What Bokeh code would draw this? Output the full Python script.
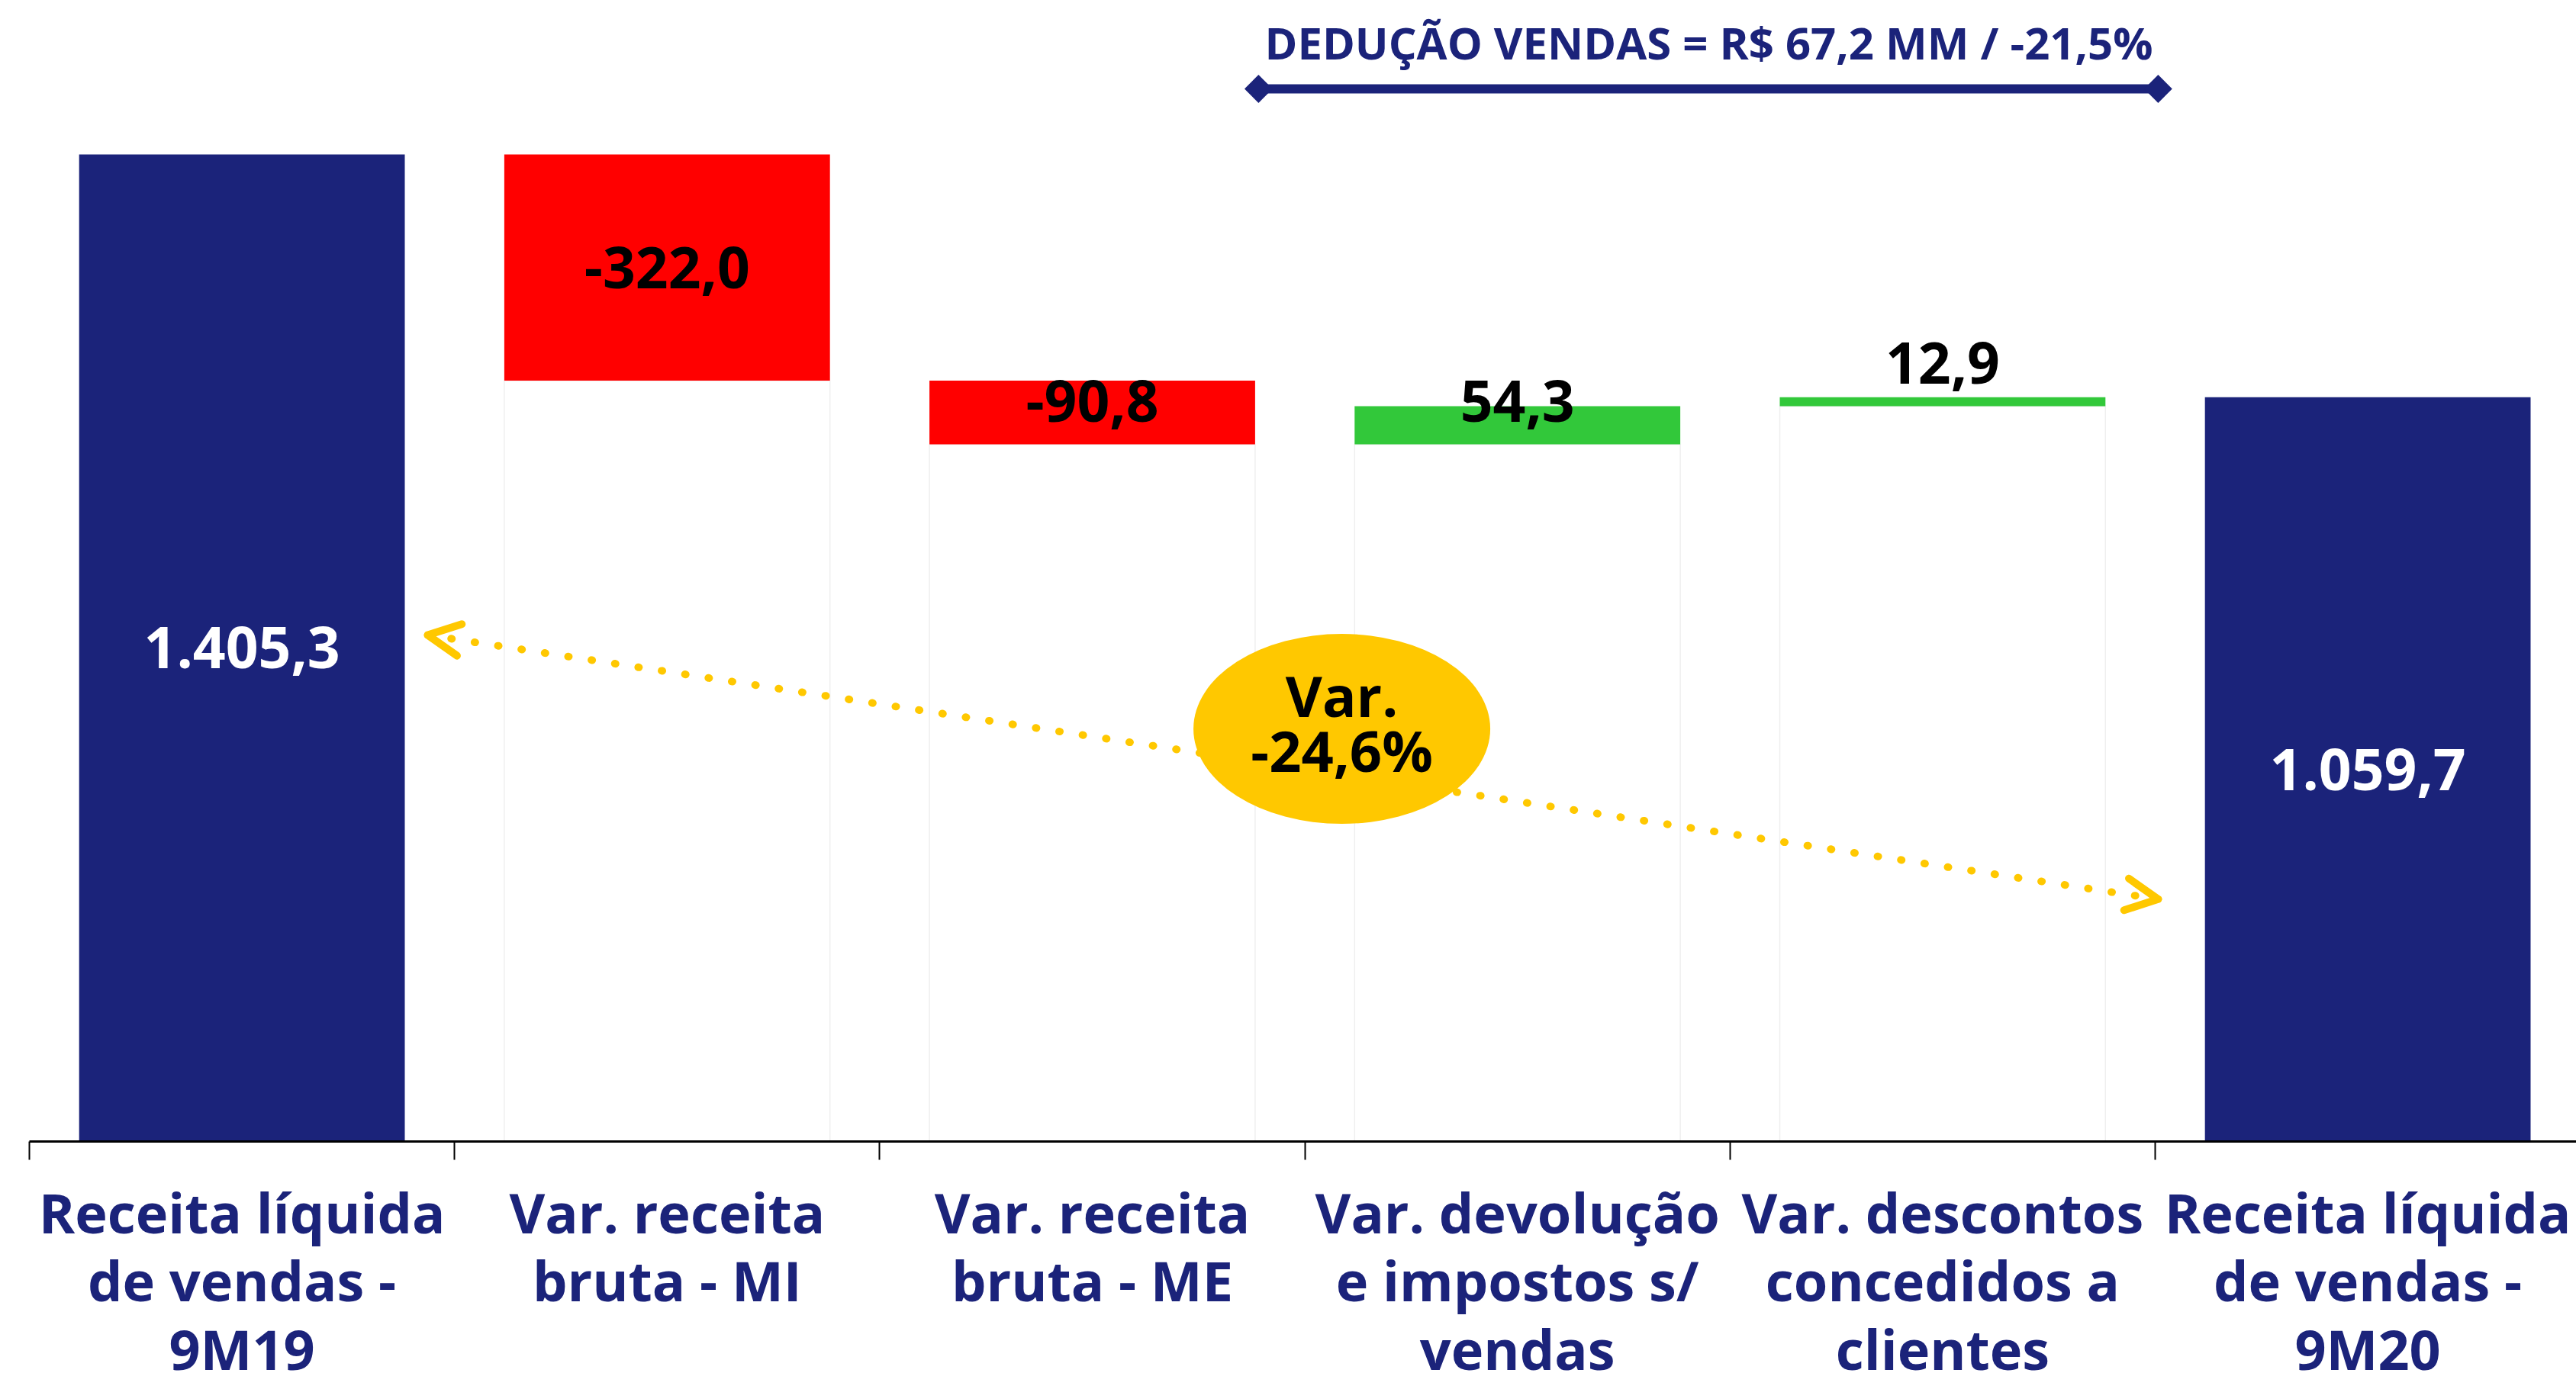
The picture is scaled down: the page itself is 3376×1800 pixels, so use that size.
import math
from bokeh.plotting import figure
from bokeh.models import Range1d, FixedTicker, Arrow, OpenHead, ColumnDataSource
from bokeh.core.properties import value
from bokeh.embed import file_html
from bokeh.resources import INLINE

# ---------------- data ----------------
categories = [
    "Receita líquida\nde vendas -\n9M19",
    "Var. receita\nbruta - MI",
    "Var. receita\nbruta - ME",
    "Var. devolução\ne impostos s/\nvendas",
    "Var. descontos\nconcedidos a\nclientes",
    "Receita líquida\nde vendas -\n9M20",
]
values = [1405.3, -322.0, -90.8, 54.3, 12.9, 1059.7]
kinds = ["total", "delta", "delta", "delta", "delta", "total"]
deduction_text = "DEDUÇÃO VENDAS = R$ 67,2 MM / -21,5%"
variation_text = "Var.\n-24,6%"

# ---------------- styles ----------------
NAVY = "#1B237A"
RED = "#FF0000"
GREEN = "#32C83A"
YELLOW = "#FFC800"
FONT = "Open Sans"
label_offsets = [0, 0, -15, -32, -51, 0]   # px, vertical nudges of value labels

# ---------------- waterfall geometry ----------------
bottoms, tops, colors, base_tops, label_colors = [], [], [], [], []
running = 0.0
for v, k in zip(values, kinds):
    if k == "total":
        bottoms.append(0.0); tops.append(v); running = v
        colors.append(NAVY); base_tops.append(0.0); label_colors.append("white")
    else:
        start, end = running, running + v
        bottoms.append(min(start, end)); tops.append(max(start, end)); running = end
        colors.append(RED if v < 0 else GREEN)
        base_tops.append(min(start, end)); label_colors.append("black")

def fmt(v):
    s = f"{v:,.1f}"
    return s.replace(",", "X").replace(".", ",").replace("X", ".")

xs = [i + 0.5 for i in range(len(categories))]
src = ColumnDataSource(dict(
    x=xs, bottom=bottoms, top=tops, color=colors, base=base_tops,
    label=[fmt(v) for v in values], label_y=[(b + t) / 2 for b, t in zip(bottoms, tops)],
    label_color=label_colors, yoff=label_offsets,
    cat=categories, zero=[0.0] * len(categories),
))

CAT_PX = 557.2
PX_PER_UNIT = 0.9208
W, H = 3376, 1800
LEFT, BOTTOM = 38, 304
XMAX = (W - LEFT) / CAT_PX
YMAX = (H - BOTTOM) / PX_PER_UNIT

p = figure(width=W, height=H, x_range=Range1d(0, XMAX), y_range=Range1d(0, YMAX),
           output_backend="svg", toolbar_location=None, y_axis_location=None,
           min_border_left=LEFT, min_border_right=0, min_border_top=0, min_border_bottom=BOTTOM)
p.outline_line_color = None
p.xgrid.visible = False
p.ygrid.visible = False
p.background_fill_color = "white"
p.border_fill_color = "white"

ax = p.xaxis[0]
ax.ticker = FixedTicker(ticks=xs, minor_ticks=list(range(len(categories) + 1)))
ax.major_label_overrides = {x: "" for x in xs}
ax.major_label_text_font_size = "0px"
ax.major_label_standoff = 0
ax.major_tick_line_color = None
ax.major_tick_out = 0
ax.major_tick_in = 0
ax.minor_tick_line_color = "black"
ax.minor_tick_line_width = 2
ax.minor_tick_out = 24
ax.minor_tick_in = 0
ax.axis_line_color = "black"
ax.axis_line_width = 3

# category labels under the axis (drawn at overlay level so they are not clipped)
p.text(x="x", y="zero", text="cat", source=src, y_offset=43, level="overlay",
       text_align="center", text_baseline="top", text_color=NAVY,
       text_font=value(FONT), text_font_style="bold", text_font_size=value("72px"),
       text_line_height=0.915)

# invisible base bars (faint outline, as in the original)
p.vbar(x="x", width=0.766, bottom=0, top="base", source=src,
       fill_color=None, line_color="#EFEFEF", line_width=1.5)
# visible bars
p.vbar(x="x", width=0.766, bottom="bottom", top="top", source=src,
       fill_color="color", line_color=None)
# value labels
p.text(x="x", y="label_y", text="label", source=src, y_offset="yoff",
       text_align="center", text_baseline="middle", text_color="label_color",
       text_font=value(FONT), text_font_style="bold", text_font_size=value("75px"))

# deduction bracket at top
y_brk = 1498.7
p.segment(x0=[2.891], y0=[y_brk], x1=[5.007], y1=[y_brk], line_color=NAVY, line_width=12)
p.scatter(x=[2.891, 5.007], y=[y_brk, y_brk], marker="square", angle=math.pi / 4,
          size=26, fill_color=NAVY, line_color=None)
p.text(x=[3.95], y=[1565], text=[deduction_text], text_align="center", text_baseline="middle",
       text_color=NAVY, text_font=value(FONT), text_font_style="bold",
       text_font_size=value("58px"))

# dotted double arrow
arrow = Arrow(
    start=OpenHead(size=42, line_color=YELLOW, line_width=10, line_cap="round", line_join="round"),
    end=OpenHead(size=42, line_color=YELLOW, line_width=10, line_cap="round", line_join="round"),
    x_start=0.937, y_start=721, x_end=5.007, y_end=345,
    line_color=YELLOW, line_width=10, line_dash="1 30", line_cap="round")
p.add_layout(arrow)

# variation bubble
p.ellipse(x=[3.087], y=[587.5], width=[389], height=[249], width_units="screen",
          height_units="screen", fill_color=YELLOW, line_color=None, level="overlay")
p.text(x=[3.087], y=[587.5], text=[variation_text], text_align="center", text_baseline="middle",
       y_offset=-8, text_color="black", text_font=value(FONT), text_font_style="bold",
       text_font_size=value("74px"), text_line_height=0.72, level="overlay")

open("out.html", "w").write(file_html(p, INLINE))
